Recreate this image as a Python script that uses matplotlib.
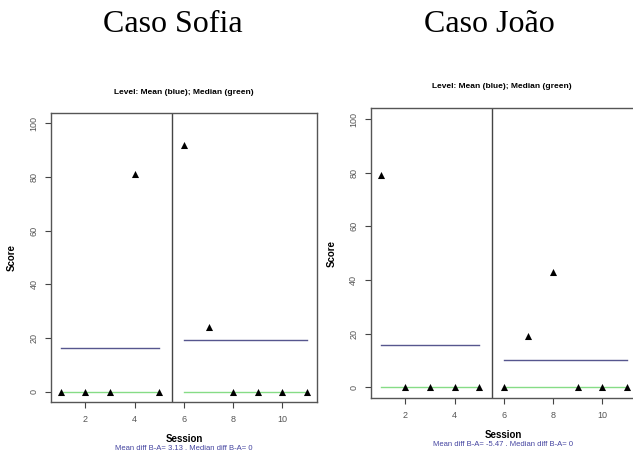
import matplotlib
matplotlib.use("Agg")
import matplotlib.pyplot as plt
import numpy as np

# Session scores for each case (phase A: sessions 1-5, phase B: sessions 6-11)
sessions = list(range(1, 12))
sofia_scores = [0, 0, 0, 81, 0, 92, 24, 0, 0, 0, 0]
joao_scores = [79, 0, 0, 0, 0, 0, 19, 43, 0, 0, 0]
case_titles = ["Caso Sofia", "Caso João"]
n_phase_a = 5

x_ticks = [2, 4, 6, 8, 10]
y_ticks = [0, 20, 40, 60, 80, 100]

MEAN_COLOR = "#56568e"
MEDIAN_COLOR = "#86dc86"
SUB_COLOR = "#4444a0"
AXIS_COLOR = "#555555"
TICK_COLOR = "#555555"

fig = plt.figure(figsize=(6.33, 4.54), dpi=100)
sans = ["Liberation Sans", "DejaVu Sans"]


def draw_case(ax, scores):
    s = np.array(sessions)
    y = np.array(scores, dtype=float)
    a_x, b_x = s[:n_phase_a], s[n_phase_a:]
    a_y, b_y = y[:n_phase_a], y[n_phase_a:]

    # median (green) and mean (blue) levels per phase
    ax.plot([a_x[0], a_x[-1]], [np.median(a_y)] * 2, color=MEDIAN_COLOR, lw=1.0, zorder=2)
    ax.plot([b_x[0], b_x[-1]], [np.median(b_y)] * 2, color=MEDIAN_COLOR, lw=1.0, zorder=2)
    ax.plot([a_x[0], a_x[-1]], [a_y.mean()] * 2, color=MEAN_COLOR, lw=1.0, zorder=2)
    ax.plot([b_x[0], b_x[-1]], [b_y.mean()] * 2, color=MEAN_COLOR, lw=1.0, zorder=2)

    ax.scatter(s, y, marker="^", s=26, color="black", zorder=3, linewidths=0)

    # phase change line
    ax.axvline(n_phase_a + 0.5, color="#444444", lw=1.0, zorder=1)

    ax.set_xlim(0.6, 11.4)
    ax.set_ylim(-4, 104)
    ax.set_xticks(x_ticks)
    ax.set_yticks(y_ticks)
    ax.set_xticklabels([str(t) for t in x_ticks], fontsize=6.5, color=TICK_COLOR, family=sans)
    ax.set_yticklabels([str(t) for t in y_ticks], fontsize=6.5, color=TICK_COLOR, family=sans,
                       rotation=90, va="center")
    ax.tick_params(axis="both", length=4, width=0.8, color="#444444", pad=5)
    for sp in ax.spines.values():
        sp.set_color(AXIS_COLOR)
        sp.set_linewidth(1.0)

    ax.set_ylabel("Score", fontsize=7, fontweight="bold", family=sans, labelpad=9)

    diff_mean = b_y.mean() - a_y.mean()
    diff_median = np.median(b_y) - np.median(a_y)
    return diff_mean, diff_median


ax1 = fig.add_axes([0.0806, 0.1137, 0.420, 0.6385])
dm, dmed = draw_case(ax1, sofia_scores)
ax2 = fig.add_axes([0.5856, 0.1233, 0.4207, 0.638])
dm2, dmed2 = draw_case(ax2, joao_scores)


def fig_text(x_px, y_px, s, **kw):
    fig.text(x_px / 633, 1 - y_px / 454, s, ha="center", va="center", **kw)


# panel headings
fig_text(184, 92.5, "Level: Mean (blue); Median (green)", fontsize=6, fontweight="bold", family=sans)
fig_text(502, 86.5, "Level: Mean (blue); Median (green)", fontsize=6, fontweight="bold", family=sans)

# x-axis labels and phase differences
fig_text(184, 439, "Session", fontsize=7, fontweight="bold", family=sans)
fig_text(184, 449, f"Mean diff B-A= {dm:.2f} . Median diff B-A= {dmed:g}",
         fontsize=5.5, color=SUB_COLOR, family=sans)
fig_text(503, 434.5, "Session", fontsize=7, fontweight="bold", family=sans)
fig_text(503, 444.5, f"Mean diff B-A= {dm2:.2f} . Median diff B-A= {dmed2:g}",
         fontsize=5.5, color=SUB_COLOR, family=sans)

# case names
fig_text(172.5, 25, case_titles[0], fontsize=23, family=["Liberation Serif", "DejaVu Serif"])
fig_text(489, 25, case_titles[1], fontsize=23, family=["Liberation Serif", "DejaVu Serif"])

fig.savefig("out.png", dpi=100)
